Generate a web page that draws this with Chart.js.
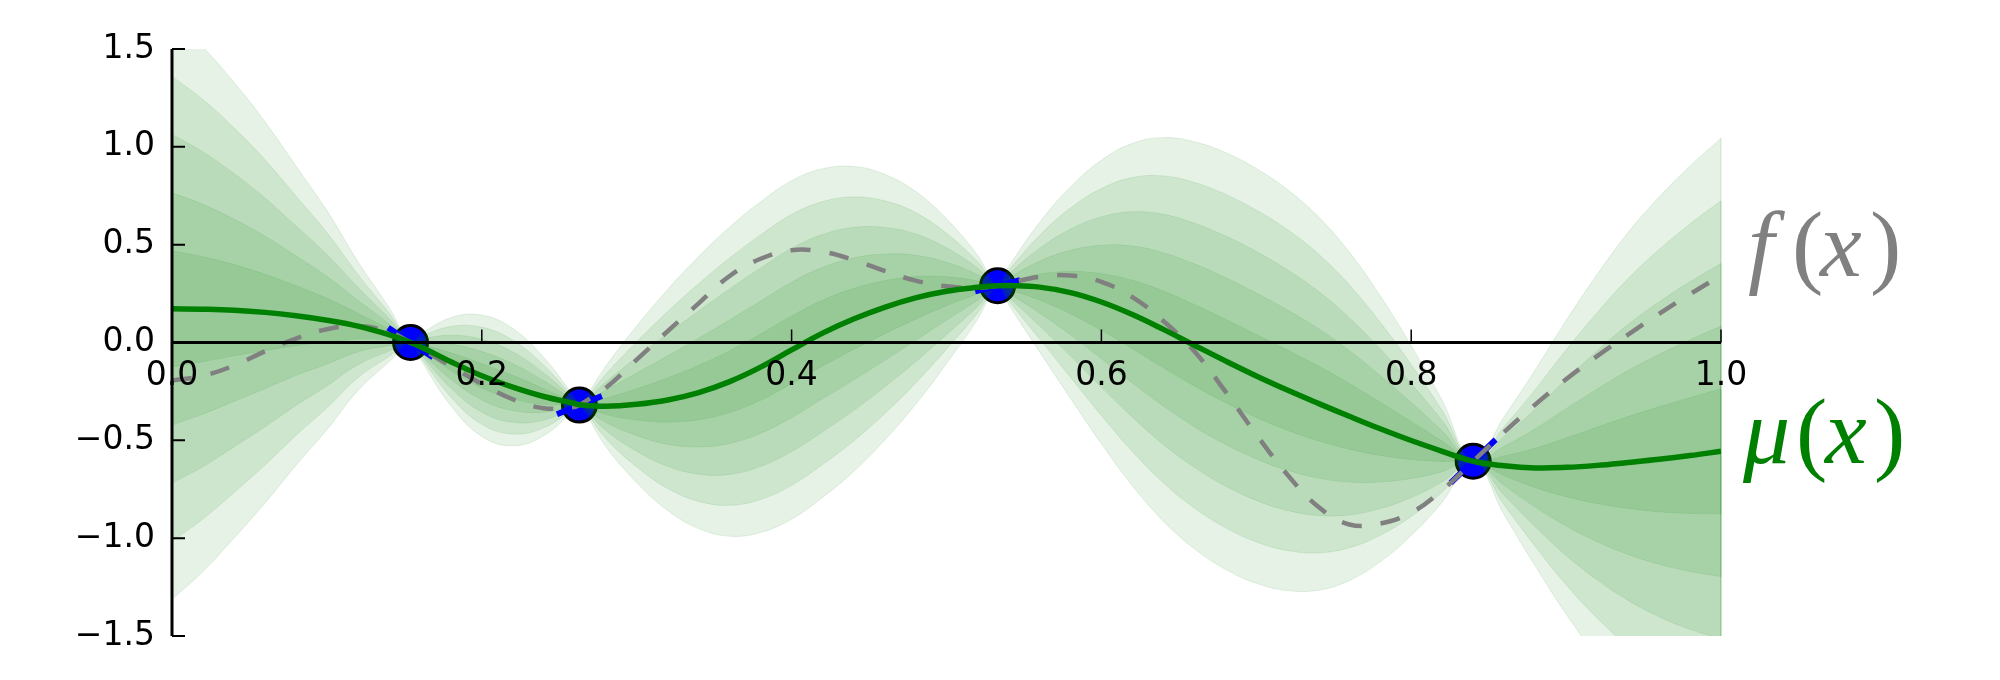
<!DOCTYPE html>
<html>
<head>
<meta charset="utf-8">
<script src="https://cdn.jsdelivr.net/npm/chart.js@4.4.1/dist/chart.umd.min.js"></script>
<style>
  html, body { margin: 0; padding: 0; background: #fff; }
  canvas { display: block; }
</style>
</head>
<body>
<canvas id="gpChart" width="2000" height="680"></canvas>
<script>
// sample positions along x
const xs = [0, 0.02, 0.04, 0.06, 0.08, 0.10, 0.12, 0.14, 0.154, 0.16, 0.18, 0.20, 0.22, 0.24, 0.26, 0.263,
  0.28, 0.30, 0.32, 0.34, 0.36, 0.38, 0.40, 0.42, 0.44, 0.46, 0.48, 0.50, 0.52, 0.533,
  0.54, 0.56, 0.58, 0.60, 0.62, 0.64, 0.66, 0.68, 0.70, 0.72, 0.74, 0.76, 0.78, 0.80, 0.82, 0.84,
  0.86, 0.88, 0.90, 0.92, 0.94, 0.96, 0.98, 1.00];

// posterior mean mu(x)
const mu = [0.172, 0.170, 0.165, 0.154, 0.137, 0.114, 0.084, 0.040, 0.000, -0.020, -0.098, -0.170, -0.228, -0.276, -0.312, -0.318,
  -0.326, -0.316, -0.294, -0.256, -0.200, -0.126, -0.038, 0.048, 0.120, 0.180, 0.228, 0.262, 0.282, 0.290,
  0.291, 0.283, 0.255, 0.207, 0.143, 0.067, -0.014, -0.094, -0.171, -0.243, -0.311, -0.377, -0.441, -0.501, -0.556, -0.607,
  -0.630, -0.641, -0.638, -0.628, -0.613, -0.597, -0.578, -0.556];

// true function f(x)
const fx = [-0.194, -0.170, -0.118, -0.045, 0.020, 0.068, 0.084, 0.055, 0.000, -0.028, -0.120, -0.212, -0.290, -0.336, -0.330, -0.320,
  -0.232, -0.088, 0.058, 0.200, 0.340, 0.428, 0.472, 0.464, 0.422, 0.366, 0.316, 0.287, 0.279, 0.290,
  0.302, 0.336, 0.342, 0.310, 0.232, 0.110, -0.045, -0.250, -0.470, -0.675, -0.840, -0.930, -0.925, -0.870, -0.755, -0.607,
  -0.458, -0.318, -0.188, -0.070, 0.040, 0.146, 0.247, 0.343];

// posterior standard deviation (one band step)
const sigma = [0.297, 0.268, 0.233, 0.195, 0.153, 0.112, 0.066, 0.028, 0, 0.012, 0.045, 0.062, 0.060, 0.040, 0.006, 0,
  0.041, 0.080, 0.113, 0.139, 0.158, 0.169, 0.173, 0.168, 0.156, 0.136, 0.109, 0.074, 0.033, 0,
  0.019, 0.066, 0.108, 0.145, 0.175, 0.196, 0.208, 0.213, 0.212, 0.205, 0.191, 0.168, 0.136, 0.097, 0.052, 0,
  0.050, 0.100, 0.150, 0.195, 0.235, 0.268, 0.296, 0.320];

// observations and their gradient marks
const obsX = [0.154, 0.263, 0.533, 0.840];
const obsY = [0.000, -0.320, 0.290, -0.607];
const obsSlope = [-5.2, 3.2, 2.0, 7.6];
const bandSteps = [5, 4, 3, 2, 1];

const xTicks = [0, 0.2, 0.4, 0.6, 0.8, 1.0];
const yTicks = [-1.5, -1.0, -0.5, 0, 0.5, 1.0, 1.5];

const pts = ys => xs.map((x, i) => ({ x: x, y: ys[i] }));
const fmt = v => (v < 0 ? '\u2212' : '') + Math.abs(v).toFixed(1);

const bandFill = 'rgba(0,128,0,0.1)';
const datasets = [];

datasets.push({
  label: 'mu', data: pts(mu), borderColor: '#008000', borderWidth: 5.5,
  pointRadius: 0, fill: false, tension: 0.4, order: 1
});
datasets.push({
  label: 'f', data: pts(fx), borderColor: '#808080', borderWidth: 4.5, borderDash: [20, 19],
  borderCapStyle: 'butt', pointRadius: 0, fill: false, tension: 0.4, order: 2
});
const gradHalf = 0.0145;
obsX.forEach((ox, i) => {
  datasets.push({
    label: 'grad' + i,
    data: [{ x: ox - gradHalf, y: obsY[i] - obsSlope[i] * gradHalf }, { x: ox + gradHalf, y: obsY[i] + obsSlope[i] * gradHalf }],
    borderColor: '#0000ff', borderWidth: 6, borderCapStyle: 'butt', pointRadius: 0, fill: false, order: 3
  });
});
bandSteps.forEach(k => {
  datasets.push({
    label: 'upper' + k, data: pts(mu.map((m, i) => m + k * sigma[i])),
    borderColor: bandFill, backgroundColor: bandFill, borderWidth: 1,
    pointRadius: 0, fill: '+1', tension: 0.4, order: 4
  });
  datasets.push({
    label: 'lower' + k, data: pts(mu.map((m, i) => m - k * sigma[i])),
    borderColor: bandFill, borderWidth: 1,
    pointRadius: 0, fill: false, tension: 0.4, order: 4
  });
});
datasets.push({
  label: 'obs', data: obsX.map((x, i) => ({ x: x, y: obsY[i] })), showLine: false,
  pointRadius: 17, pointBackgroundColor: '#0000ff', pointBorderColor: '#000000', pointBorderWidth: 3, order: 5
});

// spines, inward ticks and the closing edge of each band at x = 1
const spines = {
  id: 'spines',
  afterDatasetsDraw(chart) {
    const { ctx, chartArea, scales: { x, y } } = chart;
    const last = xs.length - 1;
    const xr = x.getPixelForValue(xs[last]);
    ctx.save();
    ctx.beginPath();
    ctx.rect(chartArea.left, chartArea.top, chartArea.right - chartArea.left + 1, chartArea.bottom - chartArea.top);
    ctx.clip();
    ctx.strokeStyle = bandFill;
    ctx.lineWidth = 1.5;
    bandSteps.forEach(k => {
      ctx.beginPath();
      ctx.moveTo(xr, y.getPixelForValue(mu[last] - k * sigma[last]));
      ctx.lineTo(xr, y.getPixelForValue(mu[last] + k * sigma[last]));
      ctx.stroke();
    });
    ctx.restore();

    const y0 = y.getPixelForValue(0);
    ctx.save();
    ctx.strokeStyle = '#000';
    ctx.lineWidth = 3;
    ctx.beginPath();
    ctx.moveTo(x.left, y0); ctx.lineTo(x.right, y0);
    ctx.moveTo(x.left, y.top); ctx.lineTo(x.left, y.bottom);
    ctx.stroke();
    ctx.lineWidth = 1.5;
    ctx.beginPath();
    xTicks.forEach(v => {
      const px = x.getPixelForValue(v);
      ctx.moveTo(px, y0); ctx.lineTo(px, y0 - 13);
    });
    ctx.stroke();
    ctx.lineWidth = 2;
    ctx.beginPath();
    yTicks.forEach(v => {
      const py = y.getPixelForValue(v);
      ctx.moveTo(x.left, py); ctx.lineTo(x.left + 13, py);
    });
    ctx.stroke();
    ctx.restore();
  }
};

// f(x) and mu(x) labels right of the plot
const fGlyphs = [['f', 27, true], ['(', 71, false], ['x', 99, true], [')', 149, false]];
const muGlyphs = [['\u03bc', 22, true], ['(', 75, false], ['x', 104, true], [')', 153, false]];
const labelBaseF = 0.34;
const labelBaseMu = -0.615;

function drawGlyphs(ctx, glyphs, x0, base, color) {
  ctx.save();
  ctx.fillStyle = color;
  ctx.textAlign = 'left';
  ctx.textBaseline = 'alphabetic';
  glyphs.forEach(([ch, dx, italic]) => {
    ctx.font = (italic ? 'italic ' : '') + '94px "Liberation Serif"';
    ctx.fillText(ch, x0 + dx, base);
  });
  ctx.restore();
}

const mathLabels = {
  id: 'mathLabels',
  afterDraw(chart) {
    const { ctx, chartArea, scales: { y } } = chart;
    drawGlyphs(ctx, fGlyphs, chartArea.right, y.getPixelForValue(labelBaseF), '#808080');
    drawGlyphs(ctx, muGlyphs, chartArea.right, y.getPixelForValue(labelBaseMu), '#008000');
  }
};

const tickFont = { family: 'DejaVu Sans', size: 33 };

new Chart(document.getElementById('gpChart'), {
  type: 'line',
  data: { datasets: datasets },
  options: {
    responsive: false,
    animation: false,
    devicePixelRatio: 1,
    layout: { padding: { left: 0, right: 279, top: 49, bottom: 44 } },
    plugins: { legend: { display: false }, tooltip: { enabled: false } },
    scales: {
      x: {
        type: 'linear', min: 0, max: 1, position: { y: 0 },
        grid: { display: false, drawTicks: false }, border: { display: false },
        ticks: { stepSize: 0.2, padding: 14, z: 1, color: '#000', font: tickFont, maxRotation: 0, autoSkip: false, callback: v => fmt(v) }
      },
      y: {
        type: 'linear', min: -1.5, max: 1.5, position: 'left',
        grid: { display: false, drawTicks: false }, border: { display: false },
        ticks: { stepSize: 0.5, padding: 17, z: 1, color: '#000', font: tickFont, callback: v => fmt(v) },
        afterFit(scale) { scale.width = 172; }
      }
    }
  },
  plugins: [spines, mathLabels]
});
</script>
</body>
</html>
